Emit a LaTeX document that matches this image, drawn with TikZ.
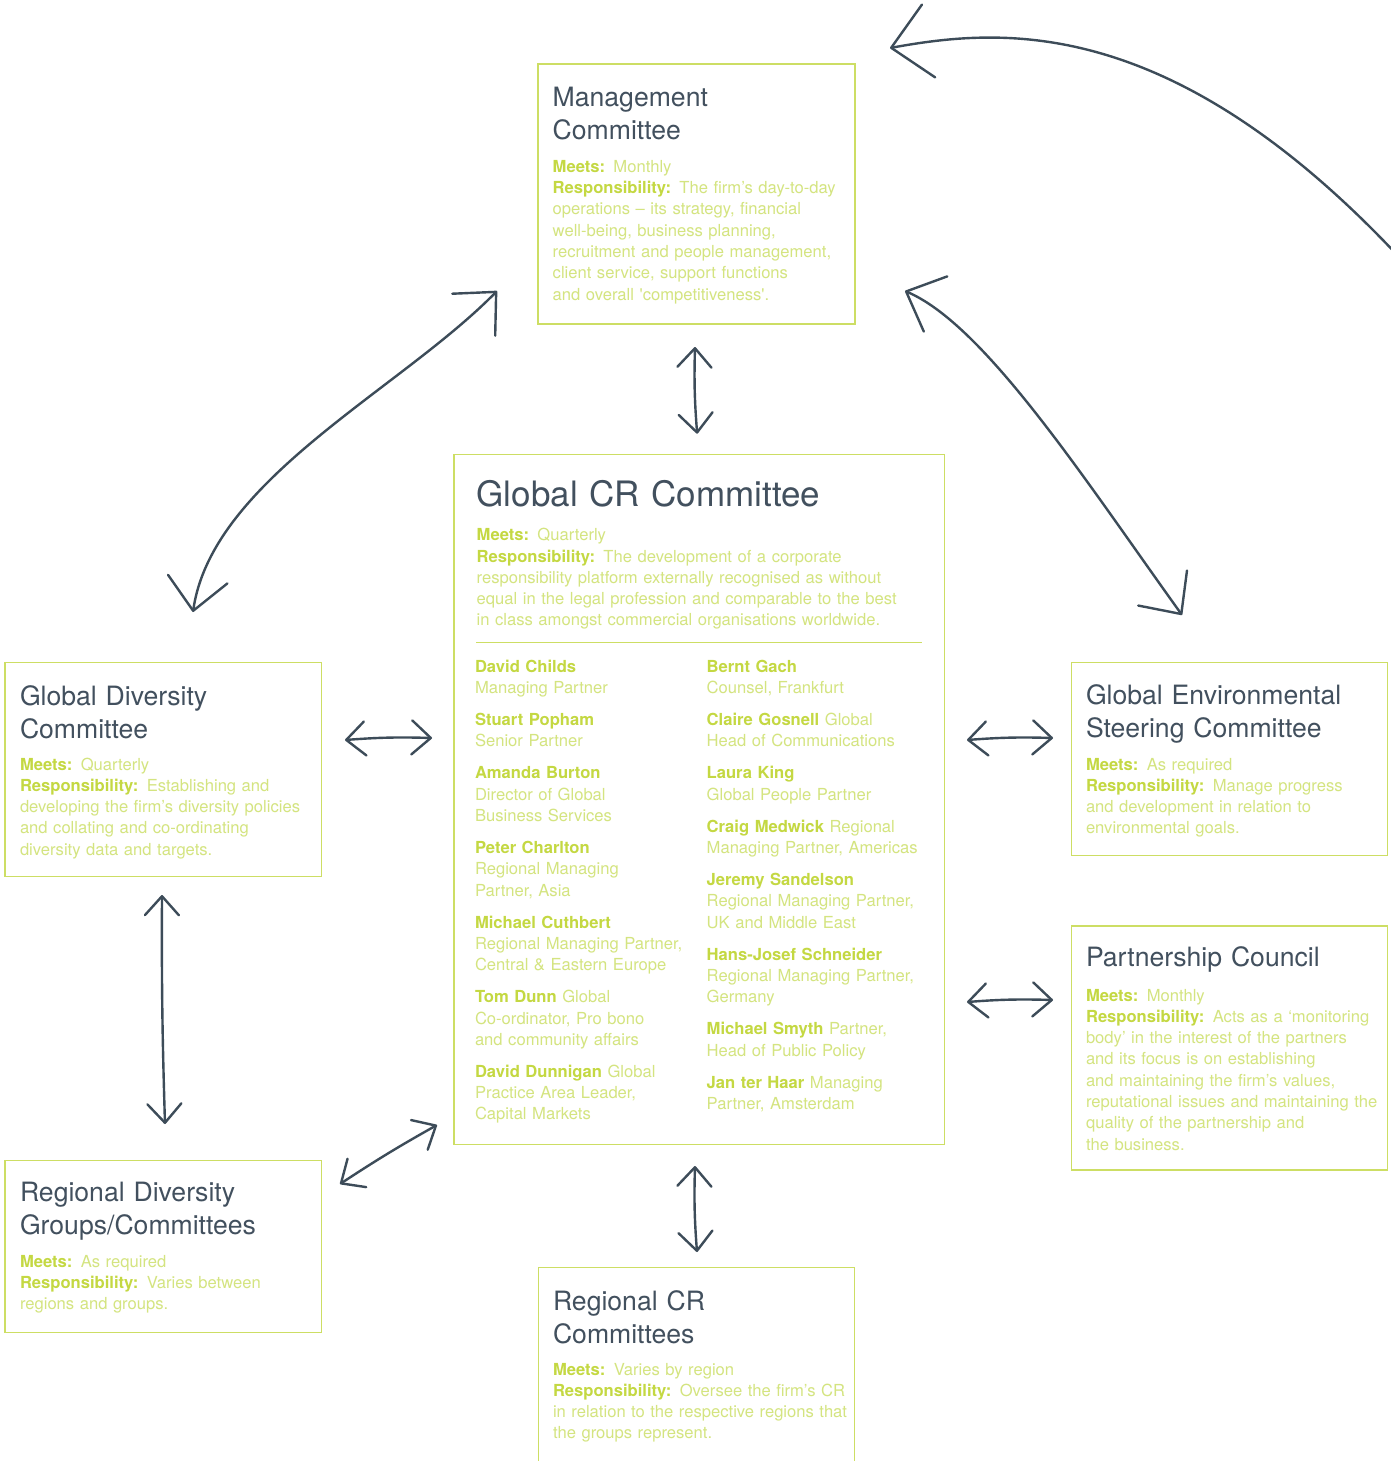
\documentclass[tikz,border=0pt]{standalone}
\usepackage{fontspec}
\setmainfont{TeX Gyre Heros}
\usetikzlibrary{arrows.meta,calc}

\definecolor{framec}{RGB}{205,222,100}
\definecolor{labelc}{RGB}{196,216,66}
\definecolor{bodyc}{RGB}{212,228,128}
\definecolor{titlec}{RGB}{66,80,94}
\definecolor{linkc}{RGB}{61,76,89}

% bold green lead-in words
\newcommand{\lbl}[1]{{\bfseries\color{labelc}#1}}

\begin{document}
\begin{tikzpicture}[x=1pt,y=-1pt,
  panel/.style={draw=framec, line width=1.4pt, anchor=north west, inner sep=0pt, outer sep=0pt},
  headtext/.style={anchor=base west, inner sep=0pt, outer sep=0pt, text=titlec, align=left,
                   text width=330pt, font=\fontsize{26.6}{33}\selectfont},
  bigheadtext/.style={headtext, text width=460pt, font=\fontsize{35}{40}\selectfont},
  bodytext/.style={anchor=base west, inner sep=0pt, outer sep=0pt, text=bodyc, align=left,
                   text width=330pt, font=\fontsize{16.6}{21.3}\selectfont},
  link/.style={draw=linkc, line width=2.4pt, line cap=round, line join=round},
  small/.style={link, >={Straight Barb[length=19pt,width=34pt,round]}, <->},
  big/.style={link, >={Straight Barb[length=32pt,width=60pt,round]}, <->},
  huge/.style={link, >={Straight Barb[length=38pt,width=74pt,round]}, ->},
]
\path[use as bounding box] (0,0) rectangle (1391,1461);
\fill[white] (0,0) rectangle (1391,1461);
\clip (0,0) rectangle (1391,1461);

% ---------- frames ----------
\node[panel, minimum width=317pt, minimum height=260pt] (mgmt) at (538,64) {};
\node[panel, minimum width=490.3pt, minimum height=689.6pt] (gcr) at (454,454.7) {};
\node[panel, minimum width=316.7pt, minimum height=214pt] (gd) at (5,662.7) {};
\node[panel, minimum width=315.6pt, minimum height=193pt] (env) at (1071.7,662.7) {};
\node[panel, minimum width=316pt, minimum height=244pt] (pc) at (1071.7,926) {};
\node[panel, minimum width=316.7pt, minimum height=172pt] (rd) at (5,1160.7) {};
\node[panel, minimum width=316pt, minimum height=230pt] (rcr) at (538.3,1267.3) {};

% ---------- Management Committee ----------
\node[headtext] (mgmt-t) at (552.7,106.7) {Management\\Committee};
\node[bodytext] (mgmt-b) at (552.7,172.3) {\lbl{Meets:} Monthly\\
\lbl{Responsibility:} The firm’s day-to-day\\
operations – its strategy, financial\\
well-being, business planning,\\
recruitment and people management,\\
client service, support functions\\
and overall \textquotesingle competitiveness\textquotesingle.};

% ---------- Global CR Committee ----------
\node[bigheadtext] (gcr-t) at (476.7,506.7) {Global CR Committee};
\node[bodytext, text width=460pt] (gcr-b) at (476.7,540.7) {\lbl{Meets:} Quarterly\\
\lbl{Responsibility:} The development of a corporate\\
responsibility platform externally recognised as without\\
equal in the legal profession and comparable to the best\\
in class amongst commercial organisations worldwide.};
\draw[draw=framec, line width=1.4pt] ($(gcr.north west)+(22,187.6)$) -- ($(gcr.north east)+(-22.3,187.6)$);

\node[bodytext, text width=225pt] (gcr-l) at (475,672.3) {\lbl{David Childs}\\
Managing Partner\\[10.7pt]
\lbl{Stuart Popham}\\
Senior Partner\\[10.7pt]
\lbl{Amanda Burton}\\
Director of Global\\
Business Services\\[10.7pt]
\lbl{Peter Charlton}\\
Regional Managing\\
Partner, Asia\\[10.7pt]
\lbl{Michael Cuthbert}\\
Regional Managing Partner,\\
Central \& Eastern Europe\\[10.7pt]
\lbl{Tom Dunn} Global\\
Co-ordinator, Pro bono\\
and community affairs\\[10.7pt]
\lbl{David Dunnigan} Global\\
Practice Area Leader,\\
Capital Markets};

\node[bodytext, text width=232pt] (gcr-r) at (706.7,672.3) {\lbl{Bernt Gach}\\
Counsel, Frankfurt\\[10.7pt]
\lbl{Claire Gosnell} Global\\
Head of Communications\\[10.7pt]
\lbl{Laura King}\\
Global People Partner\\[10.7pt]
\lbl{Craig Medwick} Regional\\
Managing Partner, Americas\\[10.7pt]
\lbl{Jeremy Sandelson}\\
Regional Managing Partner,\\
UK and Middle East\\[10.7pt]
\lbl{Hans-Josef Schneider}\\
Regional Managing Partner,\\
Germany\\[10.7pt]
\lbl{Michael Smyth} Partner,\\
Head of Public Policy\\[10.7pt]
\lbl{Jan ter Haar} Managing\\
Partner, Amsterdam};

% ---------- Global Diversity Committee ----------
\node[headtext] (gd-t) at (20,705) {Global Diversity\\Committee};
\node[bodytext] (gd-b) at (20,770) {\lbl{Meets:} Quarterly\\
\lbl{Responsibility:} Establishing and\\
developing the firm’s diversity policies\\
and collating and co-ordinating\\
diversity data and targets.};

% ---------- Global Environmental Steering Committee ----------
\node[headtext] (env-t) at (1086,704.3) {Global Environmental\\Steering Committee};
\node[bodytext] (env-b) at (1086,770) {\lbl{Meets:} As required\\
\lbl{Responsibility:} Manage progress\\
and development in relation to\\
environmental goals.};

% ---------- Partnership Council ----------
\node[headtext] (pc-t) at (1086,966.7) {Partnership Council};
\node[bodytext] (pc-b) at (1086,1001) {\lbl{Meets:} Monthly\\
\lbl{Responsibility:} Acts as a ‘monitoring\\
body’ in the interest of the partners\\
and its focus is on establishing\\
and maintaining the firm’s values,\\
reputational issues and maintaining the\\
quality of the partnership and\\
the business.};

% ---------- Regional Diversity Groups/Committees ----------
\node[headtext] (rd-t) at (20,1201.7) {Regional Diversity\\Groups/Committees};
\node[bodytext] (rd-b) at (20,1267.3) {\lbl{Meets:} As required\\
\lbl{Responsibility:} Varies between\\
regions and groups.};

% ---------- Regional CR Committees ----------
\node[headtext] (rcr-t) at (553,1310) {Regional CR\\Committees};
\node[bodytext] (rcr-b) at (553,1375) {\lbl{Meets:} Varies by region\\
\lbl{Responsibility:} Oversee the firm’s CR\\
in relation to the respective regions that\\
the groups represent.};

% ---------- connectors ----------
\coordinate (feed) at (1400,258);
\draw[huge] (feed) .. controls +(-230,-246) and +(110,-20) .. ($(mgmt.north east)+(35,-16)$);

\draw[big] ($(mgmt.south west)+(-41,-33)$) .. controls +(-97,99) and +(19,-132) .. ($(gd.north west)+(188,-50.7)$);
\draw[big] ($(mgmt.south east)+(50,-33)$) .. controls +(80,34) and +(-97,-135) .. ($(env.north west)+(110.3,-47.7)$);

\draw[small] ($(mgmt.south)+(-1.5,23)$) to[bend right=3] ($(gcr.north)+(-2,-21)$);
\draw[small] ($(gd.north east)+(23.3,77.3)$) to[bend left=3] ($(gcr.north west)+(-22,283.3)$);
\draw[small] ($(gcr.north east)+(22.7,285.3)$) to[bend left=3] ($(env.north west)+(-18.7,75.3)$);
\draw[small] ($(gcr.north east)+(22.7,547.3)$) to[bend left=3] ($(pc.north west)+(-18.7,74)$);
\draw[small] ($(gd.south)+(-1.35,18.3)$) to[bend right=1] ($(rd.north)+(1.65,-36.7)$);
\draw[small] ($(rd.north east)+(18.3,23.3)$) to[bend left=2] ($(gcr.south west)+(-17,-19.3)$);
\draw[small] ($(gcr.south)+(-4.15,21.7)$) to[bend right=3] ($(rcr.north)+(0.7,-15.3)$);
\end{tikzpicture}
\end{document}
